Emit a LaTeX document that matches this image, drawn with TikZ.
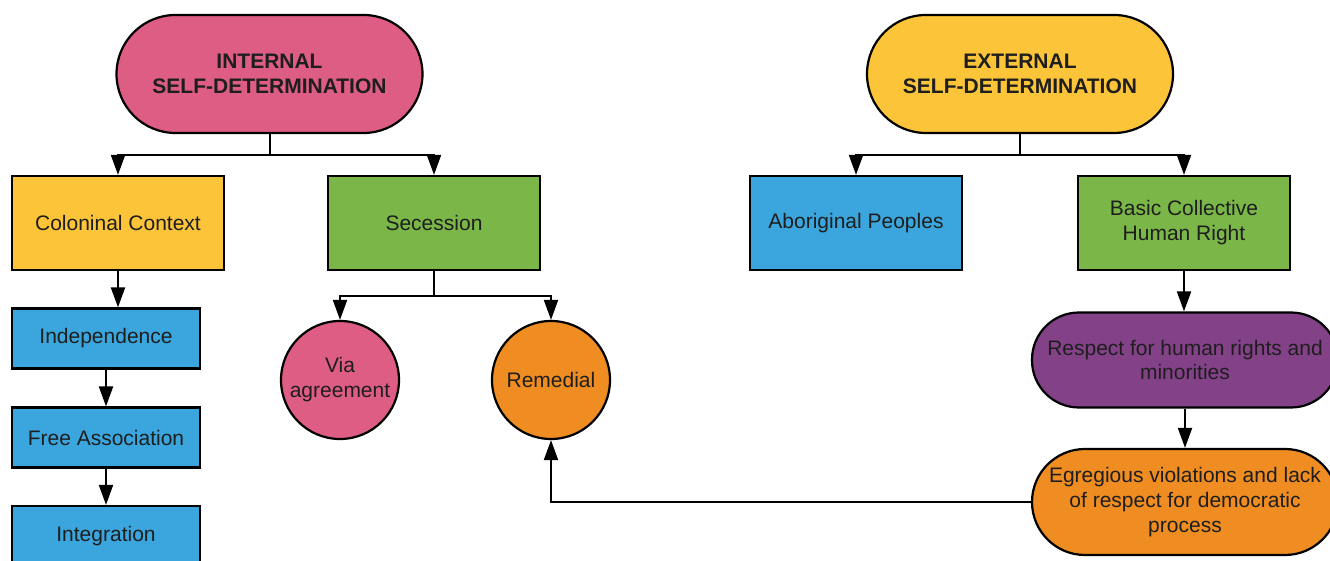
\documentclass[tikz,border=0pt]{standalone}
\usepackage{fontspec}
\setmainfont{Liberation Sans}
\usepackage{xcolor}
\usetikzlibrary{calc,arrows.meta,positioning}
\definecolor{pinkx}{HTML}{DE5D84}
\definecolor{yellowx}{HTML}{FCC438}
\definecolor{greenx}{HTML}{7AB648}
\definecolor{bluex}{HTML}{3AA6DD}
\definecolor{orangex}{HTML}{EF8D22}
\definecolor{purplex}{HTML}{834187}
\definecolor{inkx}{HTML}{1E1E1E}
\tikzset{
  ar/.style={-{Triangle[length=20pt,width=14pt]},line width=2pt,black},
  box/.style={draw=black,line width=2.2pt,align=center,inner sep=0pt,text=inkx,
    font=\fontsize{21}{25}\selectfont},
  pill/.style={box,rectangle,minimum width=306pt},
  blob/.style={box,circle,minimum size=118pt}
}
\begin{document}
\begin{tikzpicture}[x=1pt,y=1pt]
\useasboundingbox (0,0) rectangle (1330,561);
\fill[white] (0,0) rectangle (1330,561);
% heads
\node[pill,fill=pinkx,minimum height=118pt,rounded corners=59pt,font=\bfseries\fontsize{21}{25}\selectfont] (intsd) at (269.5,487) {INTERNAL\\SELF-DETERMINATION};
\node[pill,fill=yellowx,minimum height=118pt,rounded corners=59pt,font=\bfseries\fontsize{21}{25}\selectfont] (extsd) at (1020,487) {EXTERNAL\\SELF-DETERMINATION};
% second row
\node[box,fill=yellowx,minimum width=212pt,minimum height=94pt] (colon) at (118,338) {Coloninal Context};
\node[box,fill=greenx,minimum width=212pt,minimum height=94pt] (secess) at (434,338) {Secession};
\node[box,fill=bluex,minimum width=212pt,minimum height=94pt] (abor) at (856,338) {Aboriginal Peoples};
\node[box,fill=greenx,minimum width=212pt,minimum height=94pt] (basic) at (1184,338) {Basic Collective\\Human Right};
% colonial column
\node[box,fill=bluex,minimum width=188pt,minimum height=60pt] (indep) at (106,222.5) {Independence};
\node[box,fill=bluex,minimum width=188pt,minimum height=60pt] (freeas) at (106,123.5) {Free Association};
\node[box,fill=bluex,minimum width=188pt,minimum height=60pt] (integ) at (106,25) {Integration};
% secession
\node[blob,fill=pinkx] (via) at (340,181) {Via\\agreement};
\node[blob,fill=orangex] (remed) at (551,181) {Remedial};
% collective right
\node[pill,fill=purplex,minimum height=95pt,rounded corners=47pt] (respect) at (1185,201) {Respect for human rights and\\minorities};
\node[pill,fill=orangex,minimum height=106pt,rounded corners=53pt] (egreg) at (1185,59) {Egregious violations and lack\\of respect for democratic\\process};

\draw[ar] (intsd.south) -- ++(0,-21) -| (colon.north);
\draw[ar] (intsd.south) -- ++(0,-21) -| (secess.north);
\draw[ar] (extsd.south) -- ++(0,-21) -| (abor.north);
\draw[ar] (extsd.south) -- ++(0,-21) -| (basic.north);
\draw[ar] (colon.south) -- (colon.south |- indep.north);
\draw[ar] (indep) -- (freeas);
\draw[ar] (freeas) -- (integ);
\draw[ar] (secess.south) -- ++(0,-25) -| (via.north);
\draw[ar] (secess.south) -- ++(0,-25) -| (remed.north);
\draw[ar] (basic.south) -- (basic.south |- respect.north);
\draw[ar] (respect) -- (egreg);
\draw[ar] (egreg.west) -| (remed.south);
\end{tikzpicture}
\end{document}
